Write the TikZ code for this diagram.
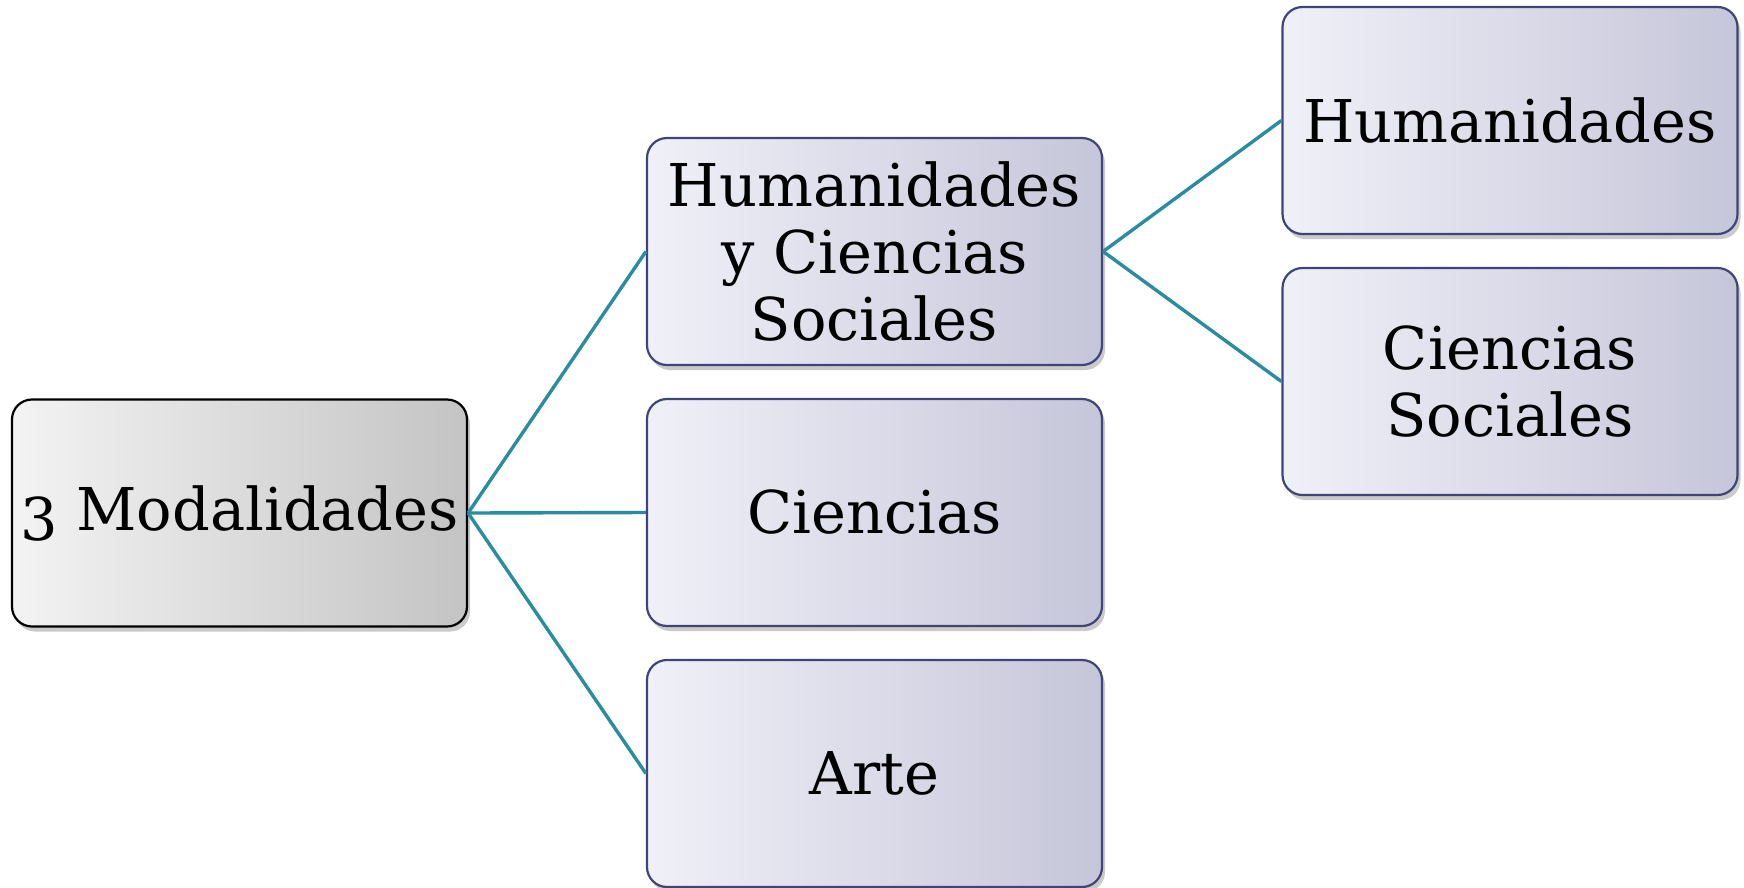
\documentclass[tikz,border=0pt]{standalone}
\usepackage{fontspec}
\setmainfont{DejaVu Serif}
\usetikzlibrary{shadows}
\definecolor{linkc}{RGB}{42,140,160}
\definecolor{bordc}{RGB}{64,68,120}
\definecolor{lavL}{RGB}{240,240,248}
\definecolor{lavR}{RGB}{198,198,218}
\definecolor{grayL}{RGB}{243,243,243}
\definecolor{grayR}{RGB}{196,196,196}
\tikzset{
  basebox/.style={rectangle, rounded corners=20pt, line width=2.2pt,
    minimum width=455pt, minimum height=227pt, inner sep=0pt, align=center,
    font=\fontsize{59}{67}\selectfont,
    drop shadow={shadow xshift=3pt, shadow yshift=-5pt, opacity=0.35, fill=black!60}},
  rootbox/.style={basebox, draw=black, left color=grayL, right color=grayR},
  lavbox/.style={basebox, draw=bordc, left color=lavL, right color=lavR},
  link/.style={draw=linkc, line width=3.4pt}
}
\begin{document}
\begin{tikzpicture}[x=1pt,y=-1pt]
\useasboundingbox (0,0) rectangle (1744,887);
\node[rootbox] (root) at (239.5,513) {\raisebox{-10pt}{3} Modalidades};
\node[lavbox] (hcs) at (874.5,251.5) {Humanidades\\y Ciencias\\Sociales};
\node[lavbox] (cie) at (874.5,512.5) {Ciencias};
\node[lavbox] (arte) at (874.5,773.5) {Arte};
\node[lavbox] (hum) at (1510,120.5) {Humanidades};
\node[lavbox] (cs) at (1510,381.5) {Ciencias\\Sociales};
\draw[link] (root.east) -- (hcs.west);
\draw[link] (root.east) -- (cie.west);
\draw[link] (root.east) -- (arte.west);
\draw[link] (hcs.east) -- (hum.west);
\draw[link] (hcs.east) -- (cs.west);
\end{tikzpicture}
\end{document}
